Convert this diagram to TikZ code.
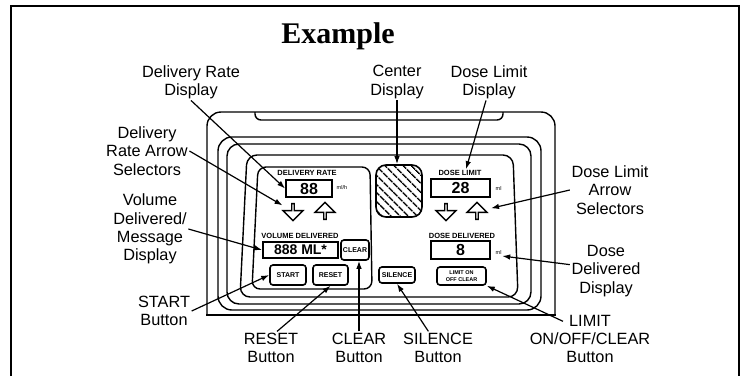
\documentclass[tikz,border=0pt]{standalone}
\usepackage{fontspec}
\setmainfont{Liberation Sans}
\newfontfamily\titlefont{Liberation Serif}
\usetikzlibrary{arrows.meta,shapes.arrows,patterns.meta}

\begin{document}
\begin{tikzpicture}[x=1pt,y=-1pt,line width=1.4pt,
  lbl/.style={align=center,font=\fontsize{16.3}{18.3}\selectfont,inner sep=1pt},
  tiny/.style={font=\fontsize{7.5}{8}\selectfont\bfseries,inner sep=0pt},
  unit/.style={font=\fontsize{5.5}{6}\selectfont,inner sep=0pt,anchor=west},
  dispbox/.style={draw,line width=1.8pt,inner sep=0pt,font=\fontsize{16}{16}\selectfont\bfseries},
  btn/.style={draw,rounded corners=3pt,line width=1.6pt,inner sep=0pt,font=\fontsize{7}{7}\selectfont\bfseries},
  selarrow/.style={draw,single arrow,line width=1.4pt,minimum height=17pt,minimum width=20pt,single arrow head extend=5pt,inner sep=0pt},
  lead/.style={-{Latex[length=8pt,width=5.5pt]},line width=1.2pt}]

\useasboundingbox (0,0) rectangle (741,376);

% frame
\draw (11,376) -- (11,6) -- (739,6) -- (739,376);

\node[font=\fontsize{30}{30}\selectfont\titlefont\bfseries,anchor=base] (title) at (338,43) {Example};

% housing
\draw[rounded corners=14pt] (207,315) -- (207,112) -- (555,112) -- (555,315);
\draw[line cap=rect] (207,315) -- (555,315);
\draw[rounded corners=6pt] (255,112) -- (255,120) -- (503,120) -- (503,112);
\draw[rounded corners=14pt] (218,137) rectangle (541,310);
\draw[rounded corners=12pt] (227,144) rectangle (531,304);
\draw[rounded corners=10pt] (240,297) -- (247,155) -- (513,155) -- (518,297) -- cycle;
\draw[rounded corners=8pt] (252,289) -- (258,167) -- (370,167) -- (372,289) -- cycle;

% left side of the panel
\node[tiny] (txtRate) at (307,172.5) {DELIVERY RATE};
\node[dispbox,minimum width=46pt,minimum height=17pt] (rateBox) at (309,188.5) {88};
\node[unit] (rateUnit) at (336,188) {ml/h};
\node[selarrow,shape border rotate=270] (rateDn) at (293,211.5) {};
\node[selarrow,shape border rotate=90] (rateUp) at (325,211.5) {};
\node[tiny] (txtVol) at (300,235.5) {VOLUME DELIVERED};
\node[dispbox,minimum width=75pt,minimum height=16pt,font=\fontsize{14}{14}\selectfont\bfseries] (volBox) at (300.5,250) {888 ML*};
\node[btn,minimum width=28pt,minimum height=20pt] (clrBtn) at (355,250) {CLEAR};
\node[btn,minimum width=36pt,minimum height=20pt] (startBtn) at (288,275) {START};
\node[btn,minimum width=35pt,minimum height=20pt] (resetBtn) at (330.5,275) {RESET};

% middle
\node[draw,rounded corners=10pt,line width=1.6pt,minimum width=46pt,minimum height=52pt,pattern={Lines[angle=-45,distance=6.5pt,line width=1.8pt]}] (ctrDisp) at (399,191) {};
\node[btn,minimum width=36pt,minimum height=16pt] (silBtn) at (397,275) {SILENCE};

% right side of the panel
\node[tiny] (txtDL) at (460,172.5) {DOSE LIMIT};
\node[dispbox,minimum width=59pt,minimum height=18pt] (dlBox) at (460.5,188) {28};
\node[unit] (dlUnit) at (495,188) {ml};
\node[selarrow,shape border rotate=270] (dlDn) at (446,211.5) {};
\node[selarrow,shape border rotate=90] (dlUp) at (477,211.5) {};
\node[tiny] (txtDD) at (462,235.5) {DOSE DELIVERED};
\node[dispbox,minimum width=59pt,minimum height=18pt] (ddBox) at (460.5,250) {8};
\node[unit] (ddUnit) at (495,252) {ml};
\node[btn,minimum width=49pt,minimum height=18pt,align=center,font=\fontsize{5.5}{6.3}\selectfont\bfseries] (limBtn) at (461.5,276) {LIMIT ON\\OFF CLEAR};

% labels
\node[lbl] (lblRateDisp) at (191,82) {Delivery Rate\\Display};
\node[lbl] (lblCtr) at (397,82) {Center\\Display};
\node[lbl] (lblDLDisp) at (489,82) {Dose Limit\\Display};
\node[lbl] (lblRateSel) at (147,151) {Delivery\\Rate Arrow\\Selectors};
\node[lbl] (lblVol) at (150,229) {Volume\\Delivered/\\Message\\Display};
\node[lbl] (lblStart) at (164,311) {START\\Button};
\node[lbl] (lblReset) at (271,348) {RESET\\Button};
\node[lbl] (lblClr) at (359,348) {CLEAR\\Button};
\node[lbl] (lblSil) at (438,348) {SILENCE\\Button};
\node[lbl] (lblLim) at (590,339) {LIMIT\\ON/OFF/CLEAR\\Button};
\node[lbl] (lblDD) at (606,271) {Dose\\Delivered\\Display};
\node[lbl] (lblDLSel) at (610,190) {Dose Limit\\Arrow\\Selectors};

% leaders
\draw[lead] (lblRateDisp.south) -- (rateBox.west);
\draw[lead,shorten >=9pt] (lblRateSel.east) -- (rateDn);
\draw[lead] (lblVol.east) -- (volBox.west);
\draw[lead] (lblStart.east) -- (startBtn.west);
\draw[lead] (lblReset.70) -- (resetBtn.south);
\draw[lead] (lblClr.north) -- (lblClr.north |- clrBtn.south);
\draw[lead] (lblSil.120) -- (silBtn.south);
\draw[lead] ([xshift=-27pt,yshift=-8pt]lblLim.north) -- (limBtn.south east);
\draw[lead] (lblDD.170) -- ([yshift=-4pt]ddUnit.east);
\draw[lead,shorten >=6pt] (lblDLSel.west) -- (dlUp);
\draw[lead] ([xshift=-3pt]lblDLDisp.south) -- ([xshift=6pt]txtDL.north);
\draw[lead] (lblCtr.south) -- (lblCtr.south |- ctrDisp.north);

\end{tikzpicture}
\end{document}
